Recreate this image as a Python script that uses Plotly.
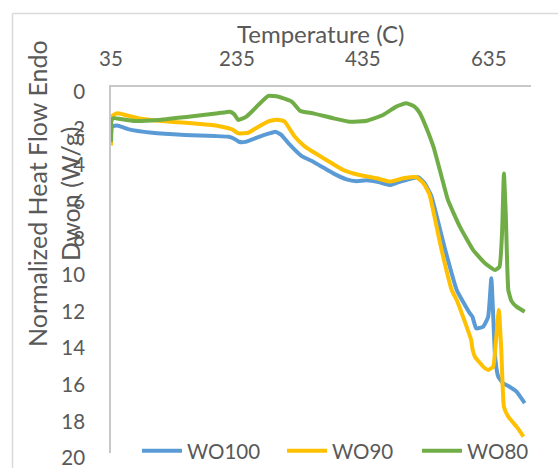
import plotly.graph_objects as go

# ---- data ----
wo100_t = [35, 37, 45, 62, 100, 152, 200, 222, 232, 238, 248, 260, 270, 285, 296, 305, 317, 338, 356, 372,
           388, 409, 425, 441, 460, 478, 492, 504, 523, 533, 544, 565, 584, 605, 609, 615, 626, 634, 639,
           642, 645, 650, 658, 668, 679, 692]
wo100_v = [3.1, 2.15, 2.1, 2.3, 2.5, 2.62, 2.68, 2.72, 2.85, 2.99, 3.0, 2.85, 2.72, 2.55, 2.44, 2.6, 3.08, 3.78,
           4.08, 4.4, 4.72, 5.05, 5.15, 5.1, 5.2, 5.36, 5.2, 5.08, 4.93, 5.26, 5.99, 8.8, 11.09, 12.37, 12.55,
           13.19, 13.1, 12.55, 10.45, 12.5, 14.74, 15.83, 16.19, 16.38, 16.65, 17.28]

wo90_t = [35, 36, 44, 55, 78, 110, 140, 168, 195, 211, 227, 237, 253, 263, 274, 285, 295, 305, 311, 327,
          343, 351, 377, 404, 430, 457, 478, 499, 520, 531, 537, 541, 560, 576, 584, 594, 607, 609, 613,
          626, 634, 642, 646, 651, 655, 659, 666, 680, 690]
wo90_v = [3.2, 1.62, 1.44, 1.5, 1.71, 1.84, 1.92, 1.99, 2.08, 2.17, 2.31, 2.53, 2.5, 2.3, 2.08, 1.88, 1.8,
          1.82, 1.9, 2.72, 3.26, 3.44, 3.99, 4.54, 4.81, 4.99, 5.17, 4.99, 4.93, 5.26, 5.6, 5.9, 8.9, 11.09,
          11.64, 12.55, 13.83, 14.3, 14.74, 15.28, 15.46, 15.28, 14.0, 12.19, 14.5, 17.47, 18.02, 18.6, 19.1]

wo80_t = [35, 36, 40, 50, 73, 110, 158, 205, 224, 231, 237, 250, 260, 269, 285, 301, 322, 335, 340, 356,
          388, 414, 441, 467, 488, 504, 517, 525, 533, 547, 560, 570, 589, 610, 629, 645, 652, 656, 659,
          662, 666, 671, 679, 692]
wo80_v = [3.0, 1.8, 1.7, 1.75, 1.86, 1.8, 1.62, 1.44, 1.35, 1.5, 1.8, 1.62, 1.3, 0.98, 0.49, 0.53, 0.8,
          1.3, 1.35, 1.44, 1.71, 1.9, 1.84, 1.53, 1.07, 0.89, 1.07, 1.4, 1.99, 3.26, 4.9, 6.17, 7.63, 8.9,
          9.63, 10.0, 9.82, 8.0, 4.72, 7.0, 11.1, 11.7, 12.0, 12.28]

series_names = ["WO100", "WO90", "WO80"]
series_colors = ["#5B9BD5", "#FFC000", "#70AD47"]

x_ticks = [35, 235, 435, 635]
y_ticks = [0, 2, 4, 6, 8, 10, 12, 14, 16, 18, 20]

FONT = "Lato"
GREY = "#595959"

W, H = 558, 468
L, R, T, B = 111, 27, 87, 15
pw, ph = W - L - R, H - T - B

def px2paper_x(px):
    return (px - L) / pw

def py2paper_y(py):
    return (H - B - py) / ph

legend_ids = ["legend", "legend2", "legend3"]
legend_px = [137, 282, 417]

fig = go.Figure()
for t, v, n, c, lg in zip([wo100_t, wo90_t, wo80_t], [wo100_v, wo90_v, wo80_v], series_names,
                          series_colors, legend_ids):
    fig.add_trace(go.Scatter(x=t, y=v, mode="lines", name=n, legend=lg,
                             line=dict(color=c, width=4, shape="spline", smoothing=0.4)))

legend_common = dict(orientation="h", xanchor="left", yanchor="middle", y=py2paper_y(451),
                     bgcolor="rgba(0,0,0,0)", font=dict(size=20.5, color=GREY), itemwidth=40)

fig.update_layout(
    width=W, height=H,
    margin=dict(l=L, r=R, t=T, b=B, autoexpand=False),
    paper_bgcolor="white", plot_bgcolor="white",
    font=dict(family=FONT, size=20.5, color=GREY),
    showlegend=True,
    legend=dict(x=px2paper_x(legend_px[0]), **legend_common),
    legend2=dict(x=px2paper_x(legend_px[1]), **legend_common),
    legend3=dict(x=px2paper_x(legend_px[2]), **legend_common),
    xaxis=dict(side="top", range=[35, 702], tickvals=x_ticks, ticktext=[str(v) for v in x_ticks],
               showgrid=False, zeroline=False, showline=True, linecolor="#C8C8C8", linewidth=1.5,
               automargin=False, ticks="", ticklabelstandoff=11, ticklabeloverflow="allow",
               tickfont=dict(size=20.5, color=GREY)),
    yaxis=dict(range=[20, 0], tickvals=y_ticks, ticktext=[str(v) for v in y_ticks],
               showgrid=False, zeroline=False, showline=True, linecolor="#C8C8C8", linewidth=1.5,
               automargin=False, ticks="", ticklabelstandoff=20, ticklabelshift=-5,
               ticklabeloverflow="allow", tickfont=dict(size=20.5, color=GREY)),
    annotations=[
        dict(text="Temperature (C)", x=px2paper_x(321), y=py2paper_y(33.5), xref="paper", yref="paper",
             xanchor="center", yanchor="middle", showarrow=False, font=dict(size=24, color=GREY)),
        dict(text="Normalized Heat Flow Endo<br>Dwon (W/g)", x=px2paper_x(53), y=py2paper_y(194),
             xref="paper", yref="paper", xanchor="center", yanchor="middle", textangle=-90,
             showarrow=False, font=dict(size=25, color=GREY)),
    ],
    shapes=[
        dict(type="line", xref="paper", yref="paper", x0=px2paper_x(12.5), x1=px2paper_x(560),
             y0=py2paper_y(13.5), y1=py2paper_y(13.5), line=dict(color="#D9D9D9", width=1.5)),
        dict(type="line", xref="paper", yref="paper", x0=px2paper_x(12.5), x1=px2paper_x(12.5),
             y0=py2paper_y(13.5), y1=py2paper_y(470), line=dict(color="#D9D9D9", width=1.5)),
    ],
)

fig.write_html("out.html", config={"displayModeBar": False},
               post_script="document.body.style.margin='0px';document.body.style.padding='0px';")
